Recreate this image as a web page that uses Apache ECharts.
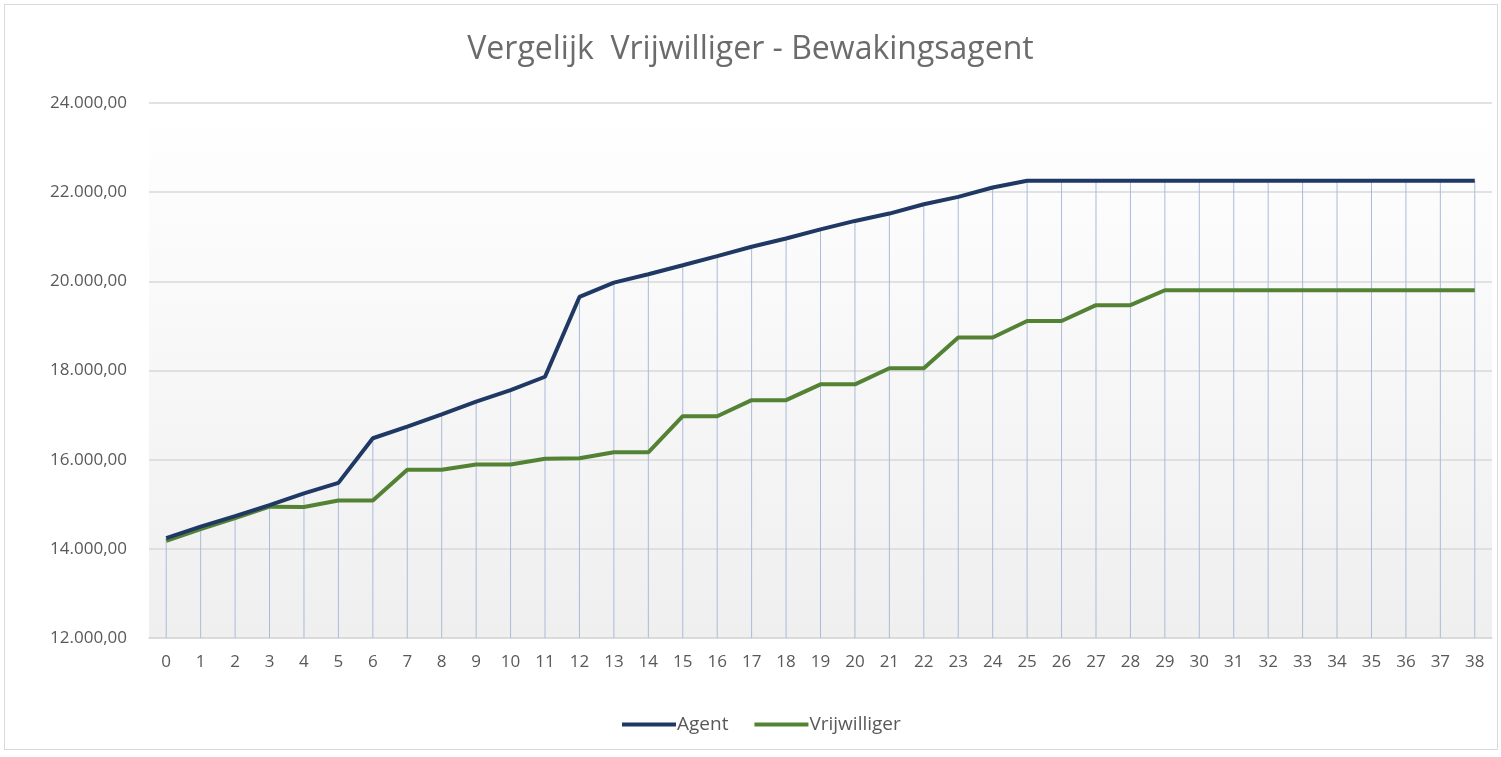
<!DOCTYPE html>
<html>
<head>
<meta charset="utf-8">
<script src="https://cdn.jsdelivr.net/npm/echarts@6/dist/echarts.min.js"></script>
<style>
  html, body { margin: 0; padding: 0; background: #fff; }
  #frame { position: absolute; left: 4px; top: 4px; width: 1494px; height: 746px; border: 1px solid #d9d9d9; box-sizing: border-box; }
  #chart { position: absolute; left: 0; top: 0; width: 1501px; height: 757px; }
</style>
</head>
<body>
<div id="frame"></div>
<div id="chart"></div>
<script>
  // jaren dienst 0..38
  var jaren = [];
  for (var i = 0; i <= 38; i++) jaren.push(String(i));

  var agent = [14240, 14500, 14735, 14980, 15245, 15480, 16480, 16740, 17015, 17300,
    17560, 17860, 19650, 19970, 20160, 20360, 20565, 20775, 20960, 21165,
    21355, 21520, 21730, 21895, 22105, 22255, 22255, 22255, 22255, 22255,
    22255, 22255, 22255, 22255, 22255, 22255, 22255, 22255, 22255];

  var vrijwilliger = [14180, 14440, 14690, 14945, 14940, 15085, 15085, 15775, 15775, 15890,
    15890, 16020, 16030, 16165, 16165, 16975, 16975, 17335, 17335, 17690,
    17690, 18050, 18050, 18740, 18740, 19110, 19110, 19465, 19465, 19800,
    19800, 19800, 19800, 19800, 19800, 19800, 19800, 19800, 19800];

  var yMin = 12000, yMax = 24000, yStap = 2000;

  function nlFormat(v) {
    var s = Math.round(v).toString().replace(/\B(?=(\d{3})+(?!\d))/g, '.');
    return s + ',00';
  }

  var myChart = echarts.init(document.getElementById('chart'));
  myChart.setOption({
    animation: false,
    title: {
      text: 'Vergelijk  Vrijwilliger - Bewakingsagent',
      left: 'center',
      top: 29,
      textStyle: { fontFamily: 'Open Sans', fontSize: 32, fontWeight: 'normal', color: '#6b6b6b' }
    },
    legend: {
      data: ['Agent', 'Vrijwilliger'],
      left: 617,
      top: 710,
      itemWidth: 54,
      itemHeight: 4,
      itemGap: 26,
      icon: 'rect',
      textStyle: { fontFamily: 'Open Sans', fontSize: 19, color: '#595959', padding: [0, 0, 0, -4] }
    },
    grid: {
      left: 149, right: 9, top: 103, bottom: 119,
      show: true,
      borderWidth: 0,
      backgroundColor: new echarts.graphic.LinearGradient(0, 0, 0, 1, [
        { offset: 0, color: '#ffffff' },
        { offset: 1, color: '#efefef' }
      ])
    },
    xAxis: {
      type: 'category',
      data: jaren,
      boundaryGap: true,
      axisLine: { show: true, lineStyle: { color: '#d9d9d9', width: 1.5 } },
      axisTick: { show: false },
      axisLabel: { fontFamily: 'Open Sans', fontSize: 17, color: '#595959', margin: 16, interval: 0 }
    },
    yAxis: {
      type: 'value',
      min: yMin,
      max: yMax,
      interval: yStap,
      axisLine: { show: false },
      axisTick: { show: false },
      splitLine: { lineStyle: { color: '#d9d9d9', width: 1.5 } },
      axisLabel: { fontFamily: 'Open Sans', fontSize: 17, color: '#595959', margin: 22, formatter: nlFormat }
    },
    series: [
      {
        name: 'drop',
        type: 'bar',
        data: agent,
        barWidth: 1,
        silent: true,
        itemStyle: { color: '#a9bbdb' },
        z: 1
      },
      {
        name: 'Agent',
        type: 'line',
        data: agent,
        showSymbol: false,
        lineStyle: { color: '#203864', width: 4 },
        itemStyle: { color: '#203864' },
        z: 3
      },
      {
        name: 'Vrijwilliger',
        type: 'line',
        data: vrijwilliger,
        showSymbol: false,
        lineStyle: { color: '#548235', width: 4 },
        itemStyle: { color: '#548235' },
        z: 2
      }
    ]
  });
</script>
</body>
</html>
